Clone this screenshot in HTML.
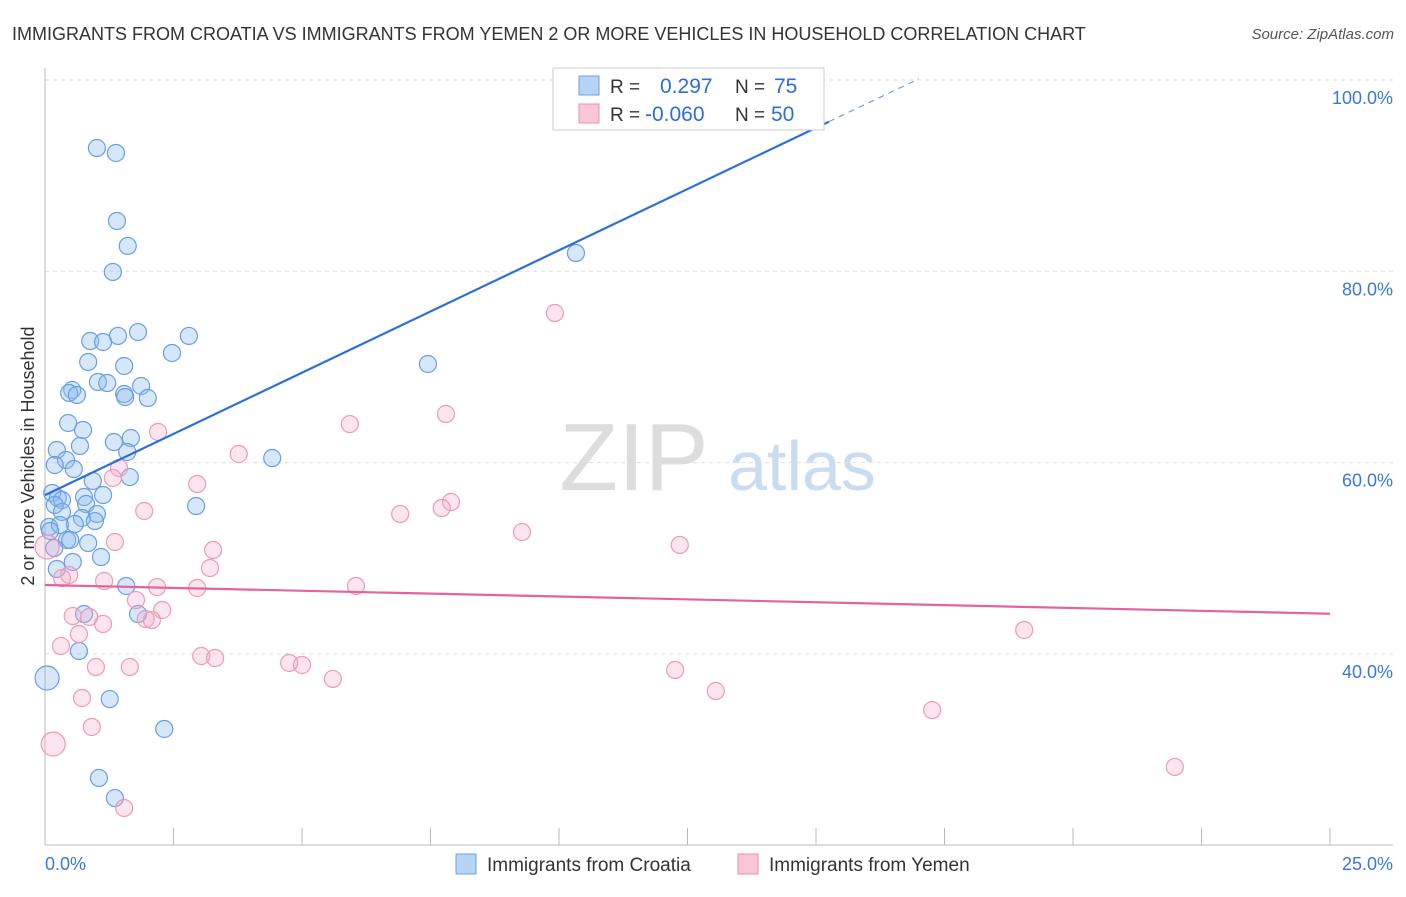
<!DOCTYPE html>
<html><head><meta charset="utf-8"><style>
body{margin:0;background:#fff;font-family:"Liberation Sans",sans-serif;}
svg text{font-family:"Liberation Sans",sans-serif;}
</style></head><body>
<svg id="chart" width="1406" height="892">
<text x="12" y="40" font-size="18" fill="#333">IMMIGRANTS FROM CROATIA VS IMMIGRANTS FROM YEMEN 2 OR MORE VEHICLES IN HOUSEHOLD CORRELATION CHART</text>
<text x="1394" y="39" font-size="15" fill="#555" font-style="italic" text-anchor="end">Source: ZipAtlas.com</text>
<text x="34" y="456" font-size="18" fill="#333" text-anchor="middle" transform="rotate(-90 34 456)">2 or more Vehicles in Household</text>
<g>
<text x="634" y="490" font-size="96" fill="#ddd" font-family="Liberation Serif" text-anchor="middle">ZIP</text>
<text x="802" y="490" font-size="70" fill="#c9dcf2" text-anchor="middle">atlas</text>
</g>
<g id="grid"></g><g id="axes"></g><g id="pts"></g><g id="lines"></g>
<g>
<rect x="553" y="68" width="271" height="62" fill="#fff" stroke="#ccc"/>
<rect x="579" y="76" width="20" height="19" fill="#b8d4f4" stroke="#6a9fe0"/>
<rect x="579" y="104" width="20" height="19" fill="#f8c6d6" stroke="#e890b0"/>
<text x="610" y="93" font-size="19" fill="#333">R = </text><text x="660" y="93" font-size="21" fill="#2b6fd6">0.297</text>
<text x="735" y="93" font-size="19" fill="#333">N = </text><text x="774" y="93" font-size="21" fill="#2b6fd6">75</text>
<text x="610" y="121" font-size="19" fill="#333">R = </text><text x="645" y="121" font-size="21" fill="#2b6fd6">-0.060</text>
<text x="735" y="121" font-size="19" fill="#333">N = </text><text x="771" y="121" font-size="21" fill="#2b6fd6">50</text>
</g>
<g>
<rect x="456" y="854" width="20" height="20" fill="#b8d4f4" stroke="#6a9fe0"/>
<text x="487" y="871" font-size="19" fill="#333">Immigrants from Croatia</text>
<rect x="738" y="854" width="20" height="20" fill="#f8c6d6" stroke="#e890b0"/>
<text x="769" y="871" font-size="19" fill="#333">Immigrants from Yemen</text>
</g>
</svg>
<script>
const xTicks=[0,2.5,5,7.5,10,12.5,15,17.5,20,22.5,25];
const yTicks=[40,60,80,100];
const yTickLabels=["40.0%","60.0%","80.0%","100.0%"];
const xEndLabels=["0.0%","25.0%"];
const croatiaX=[1.01,1.38,1.40,1.61,1.32,10.33,1.81,1.42,2.80,0.88,1.13,2.47,0.84,1.54,7.45,1.03,1.21,1.87,0.53,0.47,0.62,1.54,2.00,1.56,0.45,0.74,1.67,1.34,0.68,0.23,1.60,0.41,0.19,0.56,4.42,1.65,0.93,0.14,1.13,0.25,0.76,0.33,0.19,0.80,2.94,1.01,0.33,0.72,0.97,0.58,0.08,0.29,0.10,0.43,0.49,0.84,0.18,1.09,0.54,0.23,1.58,1.81,0.76,0.66,0.04,1.26,2.32,1.05,1.36];
const croatiaY=[92.89,92.37,85.26,82.65,79.93,81.91,73.65,73.24,73.24,72.71,72.61,71.46,70.52,70.10,70.31,68.43,68.32,68.01,67.59,67.28,67.07,67.17,66.75,66.86,64.14,63.41,62.57,62.15,61.74,61.32,61.11,60.27,59.75,59.33,60.48,58.49,58.08,56.82,56.61,56.30,56.40,56.09,55.57,55.67,55.46,54.63,54.84,54.21,53.89,53.58,53.27,53.48,52.85,51.91,51.91,51.59,51.07,50.13,49.61,48.88,47.10,44.17,44.17,40.30,37.48,35.28,32.15,27.03,24.93];
const yemenX=[9.92,7.80,5.93,2.20,3.77,1.44,1.32,2.96,7.90,7.72,1.93,6.91,9.28,12.35,1.36,3.27,0.04,3.21,0.47,0.33,1.15,2.18,6.05,2.96,1.77,2.28,0.54,0.86,1.96,2.08,1.13,0.66,0.31,3.04,3.31,4.75,5.00,0.99,1.65,5.60,12.26,13.05,0.72,19.05,17.26,0.91,0.16,21.98,1.54];
const yemenY=[75.64,65.08,64.03,63.20,60.90,59.44,58.39,57.76,55.88,55.25,54.94,54.63,52.74,51.39,51.70,50.86,51.18,48.98,48.25,47.93,47.62,46.99,47.10,46.89,45.63,44.59,43.96,43.86,43.65,43.54,43.13,42.08,40.83,39.78,39.57,39.05,38.84,38.63,38.63,37.38,38.32,36.12,35.39,42.50,34.13,32.36,30.58,28.18,23.89];
const croatiaTrend=[56.6,2.56];
const yemenTrend=[47.2,-0.12];
const NS="http://www.w3.org/2000/svg";
const X=v=>45+v*51.4;
const Y=v=>80+(100-v)*9.565;
function mk(tag,attrs,parent){const e=document.createElementNS(NS,tag);for(const k in attrs)e.setAttribute(k,attrs[k]);document.getElementById(parent).appendChild(e);return e;}
yTicks.forEach((t,i)=>{
 const g=mk('line',{x1:45,x2:1393,y1:Y(t),y2:Y(t),stroke:'#ddd','stroke-dasharray':'4,4'},'grid');
 
 
 const l=mk('text',{x:1393,y:Y(t)+24,'font-size':18,fill:'#3a78d4','text-anchor':'end'},'axes');
 l.textContent=yTickLabels[i];
 
 
});
mk('line',{x1:45,x2:45,y1:68,y2:845,stroke:'#bbb'},'axes');
mk('line',{x1:45,x2:1393,y1:845,y2:845,stroke:'#bbb'},'axes');
xTicks.forEach(t=>{const tk=mk('line',{x1:X(t),x2:X(t),y1:828,y2:845,stroke:'#bbb'},'axes');
 
 });
const xl0=mk('text',{x:45,y:870,'font-size':18,fill:'#3a78d4'},'axes');xl0.textContent=xEndLabels[0];


const xl1=mk('text',{x:1393,y:870,'font-size':18,fill:'#3a78d4','text-anchor':'end'},'axes');xl1.textContent=xEndLabels[1];


function big(x,y){return (x<0.1&&(y<39||(y>51&&y<52)))?12:8.5;}
croatiaX.forEach((x,i)=>{const c=mk('circle',{cx:X(x),cy:Y(croatiaY[i]),r:big(x,croatiaY[i]),fill:'rgba(140,185,240,0.35)',stroke:'#6a9fe0','stroke-width':1.2},'pts');
 
 });
yemenX.forEach((x,i)=>{const r=(x<0.2&&(yemenY[i]<31||(yemenY[i]>51&&yemenY[i]<52)))?12:8.5;
 const c=mk('circle',{cx:X(x),cy:Y(yemenY[i]),r:r,fill:'rgba(245,170,200,0.3)',stroke:'#ec9ab8','stroke-width':1.2},'pts');
 
 });
const cEnd=15.25,cDash=17.0;
const bl=mk('line',{x1:X(0),y1:Y(croatiaTrend[0]),x2:X(cEnd),y2:Y(croatiaTrend[0]+croatiaTrend[1]*cEnd),stroke:'#2b6fd6','stroke-width':2.2},'lines');


const bd=mk('line',{x1:X(cEnd),y1:Y(croatiaTrend[0]+croatiaTrend[1]*cEnd),x2:X(cDash),y2:Y(croatiaTrend[0]+croatiaTrend[1]*cDash),stroke:'#6a9fe0','stroke-width':1.2,'stroke-dasharray':'6,5'},'lines');


const pl=mk('line',{x1:X(0),y1:Y(yemenTrend[0]),x2:X(25),y2:Y(yemenTrend[0]+yemenTrend[1]*25),stroke:'#e5639a','stroke-width':2.2},'lines');


</script>
</body></html>
